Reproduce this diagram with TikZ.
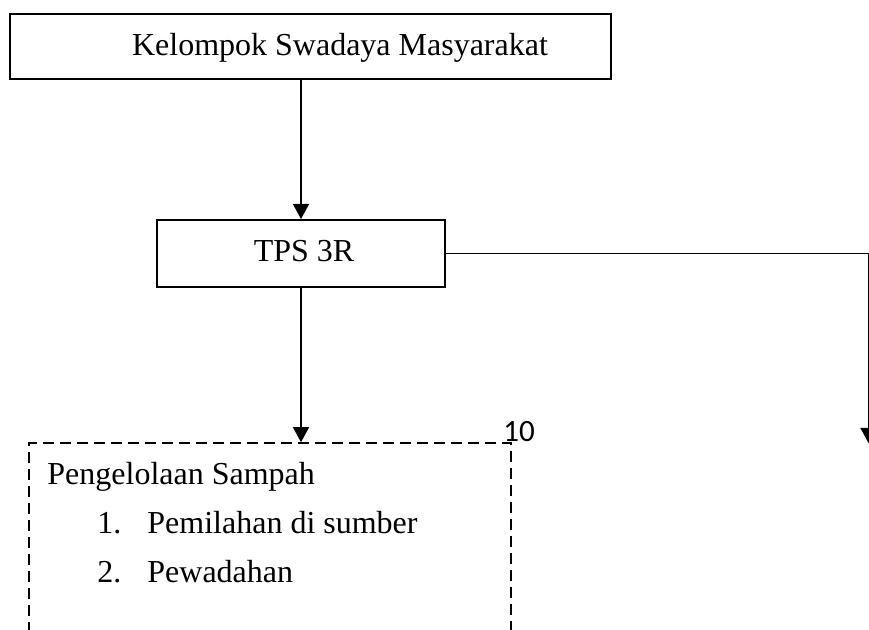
\documentclass[tikz,border=0pt]{standalone}
\usepackage{fontspec}
\setmainfont{Liberation Serif}
\newfontfamily\numfont{Carlito}
\usetikzlibrary{arrows.meta}
\begin{document}
\begin{tikzpicture}[x=0.5pt,y=-0.5pt,
  boxstyle/.style={draw,line width=1pt,inner sep=0pt,rectangle},
  dashbox/.style={draw,line width=0.8pt,dash pattern=on 5.5pt off 3pt,inner sep=0pt,rectangle},
  arr/.style={line width=0.7pt,-{Triangle[width=8pt,length=7.5pt]}},
  txt/.style={font=\fontsize{16}{19}\selectfont,inner sep=0pt,anchor=base},
  txtw/.style={font=\fontsize{16}{19}\selectfont,inner sep=0pt,anchor=base west}]
\useasboundingbox (0,0) rectangle (869,630);
% boxes
\node[boxstyle,minimum width=300.5pt,minimum height=32.5pt] (ksm) at (310.5,46.5) {};
\node[txt] (ksmt) at (340,56) {Kelompok Swadaya Masyarakat};
\node[boxstyle,minimum width=144pt,minimum height=33.5pt] (tps) at (301,253.5) {};
\node[txt] (tpst) at (304,262) {TPS 3R};
\node[dashbox,minimum width=241pt,minimum height=108.5pt] (pg) at (270,551.5) {};
\coordinate (rc) at (868.5,443);
% texts in dashed box
\node[txtw] (p0) at (47,485) {Pengelolaan Sampah};
\node[txtw] (n1) at (97,534) {1.};
\node[txtw] (p1) at (147,534) {Pemilahan di sumber};
\node[txtw] (n2) at (97,583) {2.};
\node[txtw] (p2) at (147,583) {Pewadahan};
\node[font=\numfont\fontsize{15.5}{18}\selectfont,inner sep=0pt,anchor=base] (ten) at (519,442) {10};
% connectors
\draw[arr] (tps.north |- ksm.south) -- (tps.north);
\draw[arr] (tps.south) -- (tps.south |- pg.north);
\draw[arr,line width=0.6pt] (tps.east) -| (rc);
\end{tikzpicture}
\end{document}
